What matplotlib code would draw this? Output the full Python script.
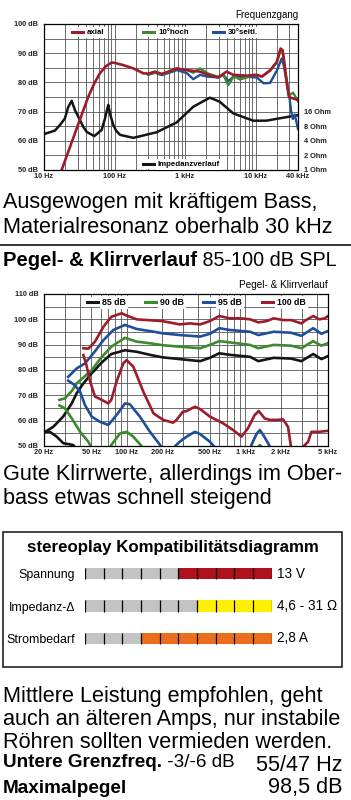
import numpy as np
import matplotlib
matplotlib.use("Agg")
import matplotlib.pyplot as plt
from matplotlib.patches import Rectangle
from matplotlib.lines import Line2D
from matplotlib.text import Annotation

plt.rcParams['font.family'] = ['Liberation Sans', 'DejaVu Sans']

# ---- Frequenzgang (dB SPL) ----
axial_f = [16, 17.8, 30.7, 42.5, 52, 62, 75, 91, 100, 130, 185, 257, 300, 376, 466, 600, 762, 1057,
           1630, 2140, 2960, 3880, 4830, 7490, 10400, 12300, 16140, 20000, 22700, 24200, 26000,
           28000, 29800, 34000, 40000]
axial_db = [47, 50, 65.8, 75.1, 79.8, 83.1, 85.5, 86.8, 86.7, 86.0, 84.8, 83.1, 83.0, 83.7, 82.9, 83.8,
            84.8, 84.2, 83.7, 82.6, 81.7, 83.7, 82.6, 82.3, 82.6, 82.0, 84.2, 87.0, 91.6, 91.0, 85.4,
            79.0, 75.0, 74.5, 74.0]
hoch_f = [300, 376, 466, 600, 762, 1057, 1300, 1630, 2140, 2960, 3500, 4100, 4500, 4830, 6000, 7490,
          9500, 12300, 16140, 20000, 22700, 24200, 26000, 29800, 34000, 37000, 40000]
hoch_db = [82.8, 83.4, 82.8, 83.6, 84.6, 84.3, 83.3, 84.8, 83.0, 81.9, 82.5, 79.1, 80.5, 82.3, 81.0,
           81.7, 82.6, 82.0, 84.0, 86.8, 91.2, 90.8, 85.2, 75.5, 76.5, 75.0, 73.5]
seitl_f = [300, 376, 466, 600, 762, 1057, 1310, 1630, 2050, 2960, 3500, 4100, 4830, 6000, 7490, 10400,
           13000, 16000, 20000, 23500, 25000, 27500, 30400, 32000, 33800, 36000, 40000]
seitl_db = [82.6, 83.3, 82.5, 83.3, 84.2, 83.2, 81.1, 82.6, 82.0, 81.7, 82.6, 80.5, 81.8, 82.0, 81.9,
            81.7, 79.7, 79.8, 84.0, 88.2, 86.0, 80.5, 74.5, 70.0, 67.5, 69.0, 64.0]
imp_f = [10, 14.3, 17, 19.8, 22, 24.7, 27.5, 32.4, 36, 40.4, 51.7, 65.7, 73, 78, 81.6, 87, 96, 105, 120,
         185, 395, 762, 1310, 2250, 3100, 4830, 9260, 14300, 24700, 40000]
imp_ohm = [5.5, 6.5, 8.6, 11.6, 19.7, 26.7, 17.1, 10.7, 7.8, 6.1, 5.0, 6.7, 11.3, 17.1, 22.0, 13.9, 8.5,
           6.5, 5.3, 4.6, 6.0, 9.6, 20.2, 31.0, 25.6, 14.7, 10.4, 10.4, 12.0, 13.5]

# ---- Pegel- & Klirrverlauf ----
p85_f = [20, 24, 29, 34.3, 37.7, 43, 50.6, 61.6, 74, 96.5, 121, 160, 200, 280, 416, 503, 604, 739,
         1100, 1290, 1740, 2440, 2980, 3750, 4400, 5000]
p85_db = [55.3, 57.6, 61.6, 66.8, 70.8, 74.7, 78.7, 83.0, 86.3, 87.8, 87.2, 85.9, 85.0, 84.3, 83.5,
          84.8, 86.6, 86.0, 85.2, 83.5, 84.8, 84.5, 83.5, 86.3, 84.3, 85.5]
p90_f = [27, 30, 34.3, 37.7, 43, 50.6, 61.6, 74, 96.5, 121, 160, 200, 280, 416, 503, 604, 739, 1100,
         1290, 1740, 2440, 2980, 3750, 4400, 5000]
p90_db = [68.2, 68.8, 71.7, 74.7, 77.0, 80.0, 85.2, 89.2, 92.7, 91.2, 90.5, 89.8, 89.2, 88.6, 89.9,
          91.4, 90.9, 89.9, 88.6, 89.9, 89.6, 88.6, 91.4, 89.6, 90.6]
p95_f = [32, 37.7, 44.3, 52.3, 63.6, 77, 96.5, 121, 160, 200, 280, 416, 503, 604, 739, 1100, 1290,
         1740, 2440, 2980, 3750, 4400, 5000]
p95_db = [77.3, 80.6, 82.6, 86.6, 91.8, 95.8, 97.8, 96.2, 95.3, 94.5, 93.8, 93.2, 94.3, 96.5, 95.8,
          95.1, 93.8, 95.1, 94.7, 93.5, 96.5, 94.3, 95.4]
p100_f = [43, 47.3, 53.9, 63.6, 74, 90.6, 99.7, 121, 160, 200, 280, 342, 416, 503, 604, 739, 905, 1100,
          1290, 1520, 1740, 2090, 2440, 2980, 3260, 3750, 4230, 4700, 5000]
p100_db = [88.6, 88.4, 91.2, 97.1, 101.0, 102.4, 101.5, 100.0, 99.6, 99.3, 98.0, 98.4, 98.0, 99.3,
           101.3, 100.4, 100.4, 100.0, 98.8, 99.3, 100.4, 99.7, 99.7, 98.4, 99.7, 101.3, 100.0, 100.4,
           101.3]

# Klirr (nan = unterhalb der Skala)
nan = np.nan
k85_f = [20, 22.4, 25.6, 29.1, 35.3, 40]
k85_db = [55.6, 55.6, 53.7, 51.1, 50.4, 47]
k90_f = [27, 30, 34.3, 40.4, 47.3, 52.3, nan, 70, 74, 87.8, 100, 113.5, 133, 140, nan, 1250, 1330, 1420]
k90_db = [66.0, 64.9, 60.9, 55.6, 51.7, 48, nan, 48, 50.4, 55.0, 55.6, 53.7, 50.0, 48, nan, 49, 50.4, 49]
k95_f = [32, 36.2, 40.4, 44.3, 50.6, 59, 69.8, 82, 96.5, 106, 129, 157, 191, 205, nan, 250, 280, 320,
         376, 416, 503, 591, nan, 1080, 1130, 1240, 1330, 1410, 1560, 1680]
k95_db = [75.8, 74.1, 71.4, 66.2, 61.6, 59.6, 58.3, 62.2, 66.8, 66.5, 61.6, 55.6, 50.4, 48, nan, 49.5,
          51.7, 53.7, 55.6, 54.7, 51.7, 48, nan, 48, 50.4, 54.6, 56.3, 54.6, 51.1, 48]
k100_f = [43, 45.6, 49.1, 53.9, 61.6, 69.8, 74, 82, 93.3, 99.7, 113.5, 138, 168, 203, 246, 263, 297,
          320, 376, 416, 503, 648, 791, 930, 1055, 1200, 1300, 1460, 1615, 1840, 2090, 2300, 2420, 2480,
          nan, 2900, 2980, 3400, 3620, 4230, 5000]
k100_db = [85.9, 82.0, 75.4, 69.5, 68.2, 66.8, 68.2, 75.4, 82.6, 83.9, 81.3, 71.4, 62.9, 60.3, 59.2,
           60.3, 63.5, 63.8, 65.5, 64.6, 61.6, 59.0, 56.3, 53.7, 57.0, 62.2, 63.8, 60.9, 60.3, 60.3,
           60.5, 57.5, 50.5, 47, nan, 47, 49, 51.7, 55.6, 55.6, 56.0]

# ---- Kompatibilitaet ----
compat_labels = ['Spannung', 'Impedanz-Δ', 'Strombedarf']
compat_values = ['13 V', '4,6 - 31 Ω', '2,8 A']
compat_filled = [5, 4, 7]
compat_colors = ['#b0111f', '#fff000', '#ea6e1b']

RED, GREEN, BLUE, BLACK = '#9e1b2b', '#3b8a2e', '#1d4f9a', '#151515'

W, H = 351, 800
def fx(x):
    return x / W
def fy(y):
    return 1 - y / H

fig = plt.figure(figsize=(3.51, 8.0), dpi=100)


def style_chart(ax, xlim, ylim, xticks, xlabels):
    ax.set_xscale('log')
    ax.set_xlim(*xlim)
    ax.set_ylim(*ylim)
    minors = [m * 10 ** e for e in range(0, 5) for m in range(1, 10)
              if xlim[0] <= m * 10 ** e <= xlim[1] and m * 10 ** e not in xticks]
    ax.set_xticks(xticks, labels=xlabels, fontsize=5.3, fontweight='bold', color='#222222')
    ax.set_xticks(minors, minor=True)
    yt = list(range(ylim[0], ylim[1] + 1, 10))
    ax.set_yticks(yt, labels=[f'{v} dB' for v in yt], fontsize=5.3, fontweight='bold', color='#222222')
    ax.set_yticks(list(range(ylim[0] + 5, ylim[1], 10)), minor=True)
    ax.grid(which='both', color='#555555', lw=0.6)
    ax.tick_params(which='both', length=0)
    ax.tick_params(axis='x', pad=2.5)
    ax.tick_params(axis='y', pad=4)
    for s in ax.spines.values():
        s.set_linewidth(0.9)


def legend_entry(x0, y, label, color, size):
    fig.add_artist(Rectangle((fx(x0 - 3), fy(y + 5)), 19 / W, 10 / H, facecolor='white',
                             edgecolor='none', transform=fig.transFigure, zorder=1))
    fig.add_artist(Line2D([fx(x0), fx(x0 + 11)], [fy(y), fy(y)], color=color, lw=2.2,
                          transform=fig.transFigure, zorder=2))
    fig.text(fx(x0 + 15), fy(y), label, va='center', ha='left', fontsize=size, fontweight='bold',
             bbox=dict(facecolor='white', edgecolor='none', pad=1.5))


# ---------- Chart 1 ----------
ax1 = fig.add_axes([fx(44), fy(170), 254 / W, 146 / H])
style_chart(ax1, (10, 40000), (50, 100), [10, 100, 1000, 10000, 40000],
            ['10 Hz', '100 Hz', '1 kHz', '10 kHz', '40 kHz'])
ax1.plot(imp_f, 50 + 5 * np.log2(imp_ohm), color=BLACK, lw=1.8)
ax1.plot(seitl_f, seitl_db, color=BLUE, lw=1.7)
ax1.plot(hoch_f, hoch_db, color=GREEN, lw=1.7)
ax1.plot(axial_f, axial_db, color=RED, lw=1.9)

sec = ax1.secondary_yaxis('right', functions=(lambda d: 2 ** ((np.asarray(d) - 50) / 5),
                                              lambda o: 50 + 5 * np.log2(np.maximum(o, 1e-9))))
sec.set_yticks([1, 2, 4, 8, 16], labels=['1 Ohm', '2 Ohm', '4 Ohm', '8 Ohm', '16 Ohm'],
               fontsize=5.3, fontweight='bold', color='#222222')
sec.tick_params(length=0, pad=4.5)
sec.spines['right'].set_visible(False)

fig.text(fx(298), fy(18.5), 'Frequenzgang', ha='right', va='baseline', fontsize=7.1)
legend_entry(72, 32.3, 'axial', RED, 5.7)
legend_entry(143, 32.3, '10°hoch', GREEN, 5.7)
legend_entry(213, 32.3, '30°seitl.', BLUE, 5.7)
legend_entry(143, 164.3, 'Impedanzverlauf', BLACK, 5.7)

BODY = 15.6
BOLD = 13.6
fig.text(fx(3), fy(208), 'Ausgewogen mit kräftigem Bass,', fontsize=BODY, va='baseline')
fig.text(fx(3), fy(233), 'Materialresonanz oberhalb 30 kHz', fontsize=BODY, va='baseline')
fig.add_artist(Line2D([0, 1], [fy(245), fy(245)], color='black', lw=1.1, transform=fig.transFigure))

t = fig.text(fx(3), fy(270), 'Pegel- & Klirrverlauf', fontsize=14.6, fontweight='bold', va='bottom')
fig.add_artist(Annotation(' 85-100 dB SPL', xy=(1, 0), xycoords=t, va='bottom', ha='left',
                          fontsize=14.2))

# ---------- Chart 2 ----------
ax2 = fig.add_axes([fx(44), fy(446), 284 / W, 152 / H])
style_chart(ax2, (20, 5000), (50, 110), [20, 50, 100, 200, 500, 1000, 2000, 5000],
            ['20 Hz', '50 Hz', '100 Hz', '200 Hz', '500 Hz', '1 kHz', '2 kHz', '5 kHz'])
for f, d, c in [(p85_f, p85_db, BLACK), (p90_f, p90_db, GREEN), (p95_f, p95_db, BLUE),
                (p100_f, p100_db, RED), (k85_f, k85_db, BLACK), (k90_f, k90_db, GREEN),
                (k95_f, k95_db, BLUE), (k100_f, k100_db, RED)]:
    ax2.plot(f, d, color=c, lw=1.9)

fig.text(fx(328), fy(288.5), 'Pegel- & Klirrverlauf', ha='right', va='baseline', fontsize=7.2)
legend_entry(87, 302.3, '85 dB', BLACK, 6.3)
legend_entry(145, 302.3, '90 dB', GREEN, 6.3)
legend_entry(203, 302.3, '95 dB', BLUE, 6.3)
legend_entry(262, 302.3, '100 dB', RED, 6.3)

fig.text(fx(3), fy(480), 'Gute Klirrwerte, allerdings im Ober-', fontsize=BODY, va='baseline')
fig.text(fx(3), fy(504), 'bass etwas schnell steigend', fontsize=BODY, va='baseline')

# ---------- Kompatibilitaetsdiagramm ----------
fig.add_artist(Rectangle((fx(3), fy(666.5)), 339 / W, 134.5 / H, facecolor='none',
                         edgecolor='#222222', lw=1.2, transform=fig.transFigure))
fig.text(fx(173), fy(552.3), 'stereoplay Kompatibilitätsdiagramm', ha='center', va='baseline',
         fontsize=12.2, fontweight='bold')

ax3 = fig.add_axes([fx(85), fy(654.75), (271.7 - 85) / W, 97.5 / H])
ax3.set_xlim(0, 10)
ax3.set_ylim(2.5, -0.5)
for i, (n, c) in enumerate(zip(compat_filled, compat_colors)):
    seg_colors = ['#c3c3c3'] * (10 - n) + [c] * n
    ax3.barh([i] * 10, [1] * 10, left=np.arange(10), height=0.35, color=seg_colors)
    ax3.vlines(np.arange(11), i - 0.175, i + 0.175, color='black', lw=0.9)
    ax3.annotate(compat_values[i], xy=(10, i), xytext=(3.6, 0), textcoords='offset points',
                 va='center', ha='left', fontsize=9.8)
ax3.set_yticks(range(3), labels=compat_labels, fontsize=8.9)
ax3.tick_params(length=0, pad=7)
ax3.xaxis.set_visible(False)
ax3.set_frame_on(False)

# ---------- Fazit ----------
fig.text(fx(3), fy(701.7), 'Mittlere Leistung empfohlen, geht', fontsize=BODY, va='baseline')
fig.text(fx(3), fy(725), 'auch an älteren Amps, nur instabile', fontsize=BODY, va='baseline')
fig.text(fx(3), fy(748.3), 'Röhren sollten vermieden werden.', fontsize=BODY, va='baseline')
t = fig.text(fx(3), fy(770.7), 'Untere Grenzfreq.', fontsize=BOLD, fontweight='bold', va='bottom')
fig.add_artist(Annotation(' -3/-6 dB', xy=(1, 0), xycoords=t, va='bottom', ha='left', fontsize=BOLD))
fig.text(fx(343), fy(770.7), '55/47 Hz', fontsize=BODY, ha='right', va='baseline')
fig.text(fx(3), fy(793.3), 'Maximalpegel', fontsize=BOLD, fontweight='bold', va='baseline')
fig.text(fx(343), fy(793.3), '98,5 dB', fontsize=BODY, ha='right', va='baseline')

fig.savefig('out.png', dpi=100)
